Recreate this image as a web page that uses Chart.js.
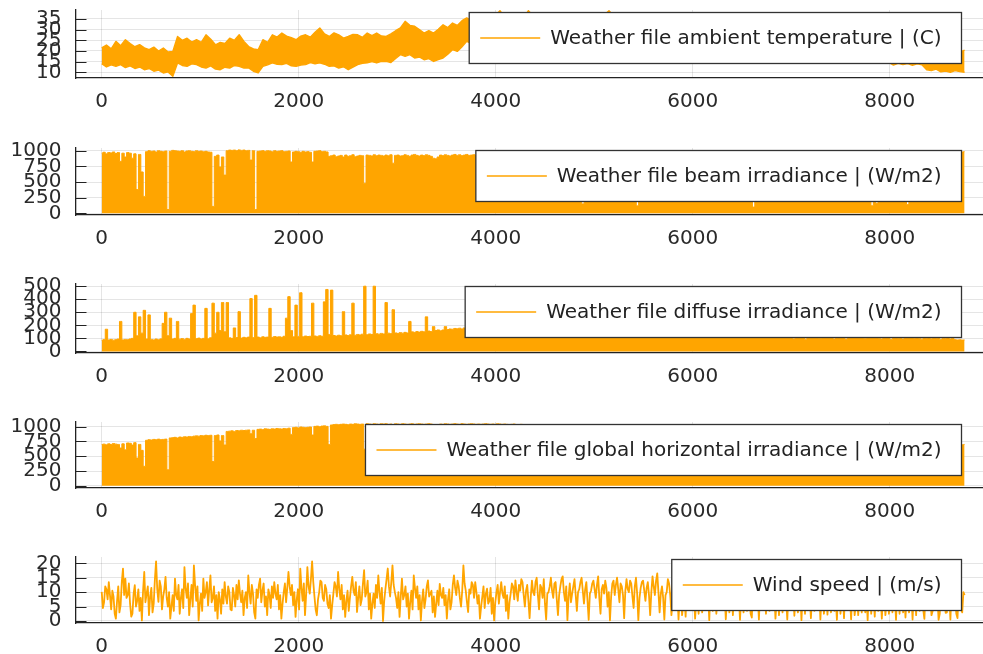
<!DOCTYPE html>
<html>
<head>
<meta charset="utf-8">
<script src="https://cdn.jsdelivr.net/npm/chart.js@4.4.1/dist/chart.umd.min.js"></script>
<style>
  html, body { margin: 0; padding: 0; background: #fff; overflow: hidden; }
  #wrap { position: relative; width: 983px; height: 654px; background: #fff; overflow: hidden; }
  #wrap canvas { position: absolute; left: 0; }
</style>
</head>
<body>
<div id="wrap"></div>
<script>
// ---- tick labels ----
const hourTicks = [0, 2000, 4000, 6000, 8000];
const tempTicks = [10, 15, 20, 25, 30, 35];
const beamTicks = [0, 250, 500, 750, 1000];
const diffuseTicks = [0, 100, 200, 300, 400, 500];
const ghiTicks = [0, 250, 500, 750, 1000];
const windTicks = [0, 5, 10, 15, 20];

// ---- series names ----
const tempName = 'Weather file ambient temperature | (C)';
const beamName = 'Weather file beam irradiance | (W/m2)';
const diffuseName = 'Weather file diffuse irradiance | (W/m2)';
const ghiName = 'Weather file global horizontal irradiance | (W/m2)';
const windName = 'Wind speed | (m/s)';

// ---- ambient temperature, daily lows / highs every two days (C) ----
const tempLow = [
  14.0, 12.5, 13.5, 12.8, 13.6, 12.2, 13.0, 11.8, 12.5, 11.2,
  11.8, 10.5, 11.0, 9.7, 10.2, 8.1, 14.4, 13.2, 12.8, 14.0,
  13.6, 12.5, 12.0, 13.0, 11.5, 11.2, 12.4, 12.0, 13.2, 12.8,
  12.0, 12.0, 10.5, 9.7, 12.8, 13.5, 14.4, 13.8, 13.6, 14.2,
  13.0, 12.8, 13.4, 13.6, 14.6, 14.0, 14.4, 13.8, 12.8, 13.0,
  12.0, 12.6, 11.2, 12.4, 13.6, 14.2, 14.4, 15.0, 14.4, 15.2,
  15.1, 14.6, 16.5, 18.3, 17.5, 18.3, 16.7, 17.2, 15.9, 16.4,
  15.1, 16.0, 16.7, 18.5, 20.6, 19.8, 22.0, 24.5, 23.5, 24.5,
  23.0, 25.0, 24.0, 25.5, 26.0, 25.0, 24.0, 25.5, 26.0, 25.0,
  26.5, 25.5, 24.5, 26.0, 25.0, 26.5, 25.5, 24.8, 26.2, 25.8,
  24.6, 26.0, 25.4, 26.4, 25.0, 24.5, 26.0, 27.0, 25.6, 24.8,
  25.6, 24.6, 25.2, 24.2, 25.0, 23.8, 24.6, 23.6, 24.2, 23.0,
  23.8, 22.6, 23.4, 22.2, 23.0, 21.8, 22.6, 21.4, 22.0, 20.8,
  21.6, 20.4, 21.0, 19.8, 20.6, 19.4, 20.0, 18.8, 19.6, 18.4,
  19.0, 18.0, 18.6, 17.6, 18.2, 17.2, 17.8, 16.8, 17.4, 16.4,
  17.0, 16.0, 16.6, 15.6, 16.2, 15.4, 15.8, 15.0, 15.6, 14.8,
  15.2, 14.6, 15.0, 14.4, 14.8, 14.2, 14.6, 13.4, 14.2, 13.6,
  14.1, 13.3, 14.0, 13.5, 11.2, 10.8, 11.5, 10.2, 10.6, 10.0,
  10.8, 10.3, 10.0
];
const tempHigh = [
  21.5, 22.8, 21.0, 24.5, 22.5, 25.3, 23.5, 22.0, 23.0, 21.5,
  20.6, 21.8, 20.0, 21.4, 19.5, 19.8, 26.8, 25.0, 26.0, 24.2,
  25.3, 24.0, 27.6, 25.5, 22.9, 24.0, 23.5, 26.0, 25.0, 27.6,
  24.5, 22.1, 21.0, 20.6, 25.3, 24.0, 27.6, 26.5, 28.4, 27.0,
  26.2, 25.3, 27.0, 27.6, 26.5, 28.8, 30.8, 28.0, 26.8, 28.5,
  27.6, 26.0, 26.8, 27.8, 27.6, 26.4, 28.4, 27.2, 28.4, 27.0,
  26.8, 28.0, 29.5, 30.8, 33.9, 32.0, 31.6, 30.0, 28.4, 29.5,
  28.4, 30.2, 32.3, 31.0, 33.1, 32.0, 34.2, 35.5, 34.0, 35.0,
  33.5, 36.0, 35.2, 36.5, 38.9, 36.0, 34.5, 36.8, 37.0, 35.5,
  38.9, 36.5, 35.0, 37.2, 36.0, 37.4, 36.2, 35.0, 37.0, 36.4,
  35.5, 37.2, 36.0, 37.3, 35.8, 34.8, 37.0, 38.9, 36.4, 35.2,
  36.6, 35.0, 36.2, 34.6, 35.8, 34.2, 35.4, 34.0, 35.0, 33.4,
  34.6, 33.0, 34.2, 32.6, 33.8, 32.2, 33.4, 31.8, 32.8, 31.2,
  32.2, 30.6, 31.8, 30.2, 31.2, 29.6, 30.8, 29.2, 30.2, 28.8,
  29.8, 28.2, 29.2, 27.8, 28.6, 27.4, 28.2, 27.0, 27.6, 26.6,
  27.2, 26.0, 26.8, 25.6, 26.2, 25.2, 25.8, 24.8, 25.4, 24.4,
  25.0, 24.0, 24.6, 23.6, 24.2, 23.2, 23.8, 22.8, 23.4, 22.6,
  23.0, 22.2, 22.8, 21.8, 21.0, 20.2, 21.4, 19.6, 20.4, 19.0,
  20.0, 19.4, 20.4
];

// ---- beam irradiance, daily peak (W/m2) ----
const beamPeak = [
  960, 975, 950, 970, 965, 980, 955, 970, 830, 960,
  900, 970, 960, 880, 950, 380, 940, 660, 270, 985,
  1000, 990, 995, 980, 1000, 990, 985, 995, 60, 990,
  1005, 1000, 995, 990, 1000, 980, 995, 1000, 990, 985,
  1000, 990, 995, 985, 990, 980, 975, 110, 910, 930,
  740, 900, 610, 1000, 1010, 1005, 1010, 1000, 1013, 1005,
  1010, 1000, 1005, 850, 1000, 60, 990, 995, 1000, 990,
  1000, 995, 985, 1000, 990, 995, 1000, 985, 990, 995,
  820, 980, 990, 985, 975, 990, 980, 985, 975, 820,
  990, 995, 1000, 985, 990, 980, 910, 920, 930, 905,
  915, 925, 900, 930, 910, 920, 935, 905, 915, 925,
  920, 480, 930, 925, 915, 935, 920, 930, 925, 915,
  930, 920, 935, 800, 925, 930, 915, 920, 935, 925,
  910, 930, 940, 925, 915, 930, 920, 935, 925, 910,
  880, 870, 900, 930, 920, 935, 925, 915, 930, 940,
  925, 935, 920, 930, 940, 925, 930, 935, 925, 940,
  930, 935, 940, 925, 930, 945, 935, 930, 940, 935,
  945, 930, 935, 940, 930, 925, 940, 935, 930, 945,
  935, 940, 930, 945, 935, 930, 940, 935, 945, 930,
  940, 935, 930, 945, 940, 935, 930, 940, 945, 935,
  930, 940, 935, 150, 940, 930, 945, 935, 940, 930,
  935, 945, 930, 940, 935, 930, 945, 940, 935, 930,
  940, 935, 945, 930, 940, 935, 120, 940, 930, 945,
  935, 940, 930, 945, 935, 940, 930, 935, 945, 940,
  180, 935, 940, 930, 945, 935, 940, 930, 935, 945,
  940, 935, 930, 945, 940, 935, 930, 940, 945, 935,
  930, 940, 935, 945, 930, 940, 935, 930, 945, 940,
  935, 930, 945, 940, 935, 100, 940, 930, 945, 935,
  940, 930, 935, 945, 940, 935, 930, 940, 945, 935,
  930, 940, 935, 945, 930, 940, 935, 930, 945, 940,
  935, 940, 930, 945, 935, 940, 930, 935, 945, 940,
  930, 935, 940, 945, 930, 940, 935, 930, 945, 940,
  935, 930, 945, 940, 935, 120, 945, 160, 935, 940,
  930, 945, 940, 935, 930, 940, 945, 935, 930, 940,
  140, 945, 935, 940, 930, 945, 940, 935, 930, 945,
  940, 935, 930, 945, 940, 935, 930, 940, 945, 935,
  950, 965, 975, 980, 985
];

// ---- diffuse irradiance, daily peak (W/m2) ----
const diffusePeak = [
  85, 90, 170, 88, 92, 86, 90, 95, 230, 88,
  92, 90, 95, 100, 300, 120, 265, 140, 315, 95,
  280, 92, 88, 95, 90, 96, 215, 300, 120, 255,
  95, 100, 230, 94, 98, 92, 100, 96, 290, 355,
  98, 102, 96, 100, 330, 97, 105, 370, 140, 300,
  160, 375, 150, 375, 104, 100, 180, 106, 305, 102,
  108, 104, 110, 405, 106, 430, 110, 105, 112, 108,
  110, 330, 108, 114, 110, 112, 108, 116, 255, 420,
  160, 112, 355, 115, 450, 112, 118, 114, 116, 370,
  118, 115, 120, 116, 380, 475, 130, 470, 122, 118,
  124, 120, 305, 126, 122, 128, 370, 124, 130, 126,
  132, 500, 128, 134, 130, 500, 136, 132, 138, 134,
  375, 140, 136, 320, 142, 138, 144, 140, 146, 142,
  230, 150, 146, 152, 148, 154, 150, 265, 156, 152,
  190, 160, 165, 158, 164, 190, 168, 172, 170, 176,
  174, 178, 172, 180, 176, 182, 178, 175, 180, 185,
  178, 182, 186, 180, 175, 184, 188, 182, 178, 185,
  180, 176, 182, 186, 178, 174, 180, 184, 178, 172,
  176, 170, 174, 168, 172, 166, 170, 164, 168, 162,
  166, 160, 164, 158, 162, 156, 160, 154, 158, 152,
  156, 150, 154, 300, 148, 152, 146, 150, 144, 148,
  142, 146, 140, 144, 138, 142, 136, 140, 134, 138,
  132, 136, 130, 134, 128, 132, 250, 130, 126, 130,
  124, 128, 122, 126, 120, 124, 118, 122, 120, 118,
  260, 120, 118, 122, 116, 120, 118, 115, 119, 117,
  115, 118, 116, 114, 117, 115, 113, 116, 114, 115,
  115, 113, 114, 114, 115, 113, 116, 114, 115, 113,
  114, 116, 113, 115, 114, 280, 115, 113, 116, 114,
  112, 115, 110, 114, 111, 113, 109, 112, 115, 110,
  108, 112, 96, 110, 113, 107, 111, 94, 109, 112,
  106, 110, 104, 98, 111, 107, 109, 103, 112, 95,
  108, 104, 110, 106, 93, 109, 105, 111, 102, 107,
  104, 109, 97, 106, 103, 240, 108, 200, 101, 96,
  107, 103, 109, 92, 105, 108, 100, 106, 95, 104,
  220, 102, 107, 98, 105, 101, 94, 104, 100, 106,
  97, 103, 99, 105, 92, 101, 98, 104, 96, 100,
  90, 88, 89, 87, 88
];

// ---- global horizontal irradiance, daily peak (W/m2) ----
const ghiPeak = [
  700, 705, 695, 710, 700, 715, 705, 700, 640, 710,
  610, 725, 720, 690, 730, 470, 700, 600, 330, 770,
  780, 775, 785, 780, 790, 780, 785, 790, 270, 810,
  815, 820, 810, 825, 820, 830, 825, 835, 830, 840,
  845, 840, 850, 845, 855, 850, 855, 410, 850, 860,
  760, 850, 690, 920, 925, 930, 920, 935, 930, 940,
  935, 940, 945, 880, 940, 800, 955, 960, 950, 965,
  960, 955, 965, 960, 970, 965, 960, 970, 965, 975,
  870, 985, 990, 980, 995, 990, 985, 990, 995, 860,
  1005, 1010, 1000, 1010, 1015, 1005, 700, 1030, 1035, 1040,
  1035, 1040, 1045, 1040, 1035, 1045, 1040, 1050, 1045, 1040,
  1045, 620, 1050, 1045, 1040, 1050, 1045, 1040, 1050, 1045,
  1050, 1040, 1045, 900, 1050, 1045, 1040, 1050, 1045, 1040,
  1045, 1050, 1040, 1045, 1050, 1045, 1040, 1045, 1050, 1045,
  1000, 990, 1030, 1045, 1040, 1050, 1045, 1040, 1045, 1050,
  1045, 1040, 1050, 1045, 1040, 1045, 1050, 1045, 1040, 1045,
  1040, 1045, 1050, 1045, 1040, 1045, 1040, 1050, 1045, 1040,
  1045, 1040, 1035, 1040, 1045, 1030, 1035, 1040, 1030, 1035,
  1030, 1025, 1030, 1020, 1025, 1015, 1020, 1010, 1015, 1005,
  1010, 1000, 1005, 995, 1000, 990, 985, 990, 980, 985,
  975, 970, 975, 420, 965, 960, 955, 960, 950, 945,
  950, 940, 935, 940, 930, 925, 930, 920, 915, 920,
  910, 905, 910, 900, 895, 900, 180, 890, 880, 885,
  875, 870, 875, 865, 860, 865, 855, 850, 855, 845,
  400, 840, 835, 830, 835, 825, 820, 825, 815, 810,
  815, 805, 800, 805, 795, 790, 795, 785, 780, 785,
  775, 770, 775, 765, 760, 765, 755, 750, 755, 745,
  740, 745, 735, 730, 735, 330, 725, 720, 725, 715,
  710, 715, 705, 700, 705, 695, 690, 695, 685, 680,
  685, 675, 670, 675, 665, 660, 665, 655, 650, 655,
  650, 645, 650, 640, 645, 640, 635, 640, 635, 630,
  635, 630, 625, 630, 625, 630, 620, 625, 630, 625,
  630, 625, 635, 630, 640, 180, 635, 360, 640, 645,
  640, 650, 645, 655, 650, 660, 655, 665, 660, 670,
  330, 670, 675, 680, 675, 685, 680, 690, 685, 690,
  695, 690, 700, 695, 700, 705, 700, 695, 705, 700,
  700, 705, 700, 695, 700
];

// ---- wind speed at midnight of each day (m/s) ----
const windMidnight = [
  10.1, 6.5, 11.0, 13.5, 4.0, 8.5, 0.8, 12.0, 5.5, 18.2,
  14.7, 9.0, 6.0, 2.5, 12.4, 7.0, 3.5, 0.2, 17.0, 9.5,
  2.0, 11.5, 6.0, 20.7, 6.6, 12.0, 8.5, 15.3, 5.0, 0.8,
  9.0, 14.7, 7.5, 2.5, 11.0, 18.7, 8.0, 2.0, 12.5, 19.3,
  7.0, 0.2, 9.5, 14.7, 10.0, 5.4, 15.8, 8.0, 3.5, 0.8,
  7.5, 11.0, 13.5, 6.0, 10.0, 3.7, 9.0, 12.5, 14.1, 6.5,
  2.0, 10.0, 15.8, 6.0, 9.5, 0.8, 8.0, 14.7, 10.5, 5.0,
  2.0, 9.0, 12.0, 13.5, 7.5, 4.0, 0.8, 10.0, 6.5, 17.0,
  9.0, 5.5, 1.4, 11.0, 18.2, 7.0, 2.0, 18.7, 9.5, 20.7,
  8.5, 2.0, 10.0, 13.5, 7.0, 11.0, 4.5, 0.8, 9.5, 12.0,
  17.0, 7.5, 4.0, 1.4, 10.5, 8.0, 15.3, 9.0, 3.1, 12.0,
  7.5, 17.6, 10.0, 4.0, 0.8, 9.5, 12.5, 15.8, 6.0, 0.0,
  11.0, 18.2, 8.5, 19.3, 10.0, 4.5, 1.4, 14.7, 9.0, 5.0,
  0.8, 10.5, 15.8, 8.0, 4.0, 0.2, 11.0, 7.5, 14.1, 9.5,
  3.0, 1.4, 10.5, 12.9, 8.0, 5.5, 0.8, 11.0, 6.5, 15.8,
  9.0, 12.0, 5.0, 19.3, 10.5, 3.1, 9.5, 12.5, 13.5, 6.0,
  0.8, 8.5, 4.5, 11.2, 7.0, 2.5, 0.2, 10.0, 6.0, 13.5,
  8.0, 3.5, 0.8, 9.5, 12.0, 14.1, 7.0, 10.5, 13.5, 5.0,
  12.5, 1.0, 14.0, 9.0, 15.0, 4.0, 11.5, 14.5, 0.5, 10.0,
  15.0, 8.0, 13.5, 2.0, 12.0, 15.5, 7.0, 0.3, 13.0, 9.5,
  14.5, 3.5, 11.0, 15.0, 6.0, 13.5, 0.4, 10.5, 14.0, 8.0,
  15.5, 2.5, 12.5, 14.0, 5.0, 0.2, 13.0, 9.0, 15.0, 6.5,
  12.0, 1.0, 14.5, 10.0, 13.0, 4.5, 15.0, 0.3, 11.5, 14.0,
  7.0, 13.5, 2.0, 15.5, 9.0, 16.5, 3.0, 12.0, 0.5, 10.0,
  13.0, 2.0, 11.0, 8.0, 0.5, 12.5, 6.0, 1.5, 10.0, 13.5,
  4.0, 0.8, 9.5, 12.0, 3.0, 11.0, 7.5, 0.3, 12.5, 9.0,
  2.5, 10.5, 13.0, 5.0, 0.6, 11.0, 8.0, 2.0, 12.0, 6.5,
  0.4, 10.0, 12.5, 3.5, 9.0, 1.2, 11.5, 7.0, 0.5, 12.0,
  8.5, 2.5, 10.5, 13.0, 4.0, 0.8, 9.0, 11.5, 3.0, 10.0,
  0.5, 12.0, 7.0, 1.8, 11.0, 9.5, 0.3, 10.5, 12.5, 4.5,
  1.0, 9.5, 11.5, 6.0, 0.5, 12.0, 8.0, 2.2, 10.0, 13.0,
  3.5, 0.4, 11.0, 7.5, 1.0, 12.5, 9.0, 0.6, 10.5, 6.0,
  2.0, 11.5, 12.5, 3.0, 0.3, 10.0, 8.5, 1.5, 12.0, 9.5,
  0.8, 11.0, 6.5, 2.5, 10.5, 13.0, 0.4, 9.0, 11.5, 3.0,
  1.2, 12.0, 8.0, 0.5, 10.5, 12.5, 3.5, 9.5, 0.7, 11.0,
  7.0, 2.0, 12.0, 10.0, 0.4, 9.5, 11.5, 2.8, 10.0, 0.5,
  12.0, 8.5, 1.0, 10.5, 3.0, 9.0
];

// ---- wind speed at noon of each day (m/s) ----
const windNoon = [
  4.5, 12.0, 7.5, 9.0, 10.5, 2.5, 7.0, 3.0, 13.5, 9.0,
  8.0, 13.0, 1.5, 9.5, 5.0, 11.0, 8.0, 10.5, 6.5, 12.0,
  8.5, 3.0, 14.5, 11.0, 14.0, 4.0, 11.0, 8.0, 10.0, 5.0,
  3.5, 9.0, 12.5, 8.0, 4.5, 11.5, 13.0, 7.5, 5.0, 12.5,
  12.0, 6.0, 3.5, 8.0, 13.5, 11.0, 6.5, 12.0, 9.0, 10.0,
  2.5, 6.0, 8.5, 12.0, 4.0, 11.5, 5.0, 7.5, 9.5, 10.5,
  8.0, 4.5, 10.0, 12.5, 3.0, 11.0, 12.5, 6.5, 13.0, 8.5,
  11.0, 4.5, 8.0, 9.5, 12.5, 9.0, 6.0, 13.0, 11.5, 12.0,
  12.5, 10.0, 7.5, 4.0, 11.5, 13.0, 9.5, 12.0, 14.5, 13.5,
  4.0, 7.5, 14.0, 8.0, 12.5, 6.0, 9.0, 5.5, 13.5, 8.5,
  11.0, 12.5, 9.0, 7.0, 3.5, 12.0, 10.5, 13.5, 8.0, 5.5,
  13.0, 8.5, 14.0, 9.5, 6.0, 4.5, 8.0, 10.0, 11.5, 7.0,
  14.5, 12.0, 13.5, 12.5, 8.0, 10.0, 8.5, 7.5, 12.0, 9.5,
  6.5, 4.0, 11.5, 12.0, 9.0, 7.0, 4.5, 12.0, 8.5, 10.5,
  8.5, 6.0, 5.5, 9.0, 11.5, 9.0, 7.5, 4.0, 12.5, 11.5,
  14.0, 8.0, 10.5, 13.0, 6.5, 11.0, 13.5, 8.0, 10.0, 9.0,
  5.0, 12.0, 9.5, 6.0, 11.5, 8.0, 6.5, 12.5, 10.0, 9.5,
  12.0, 9.0, 6.5, 13.0, 7.5, 10.0, 12.5, 14.5, 9.0, 10.5,
  7.0, 8.5, 10.0, 13.5, 9.0, 12.5, 8.0, 6.0, 9.5, 12.0,
  10.5, 13.0, 7.5, 9.0, 14.5, 10.0, 12.0, 8.5, 6.5, 12.0,
  9.0, 10.0, 13.5, 10.5, 11.0, 7.0, 9.5, 13.0, 11.0, 12.5,
  8.0, 11.0, 9.5, 11.5, 10.0, 8.5, 14.0, 12.5, 11.0, 13.0,
  9.0, 10.5, 11.0, 14.0, 8.5, 12.0, 9.5, 8.0, 13.5, 10.5,
  11.5, 9.0, 10.0, 12.0, 14.0, 10.0, 9.5, 8.0, 9.0, 14.5,
  9.0, 7.5, 4.0, 10.5, 8.0, 2.0, 9.5, 11.0, 6.0, 8.0,
  10.5, 7.0, 2.5, 9.0, 10.0, 5.0, 9.5, 11.0, 3.5, 10.5,
  8.0, 4.0, 10.0, 9.5, 8.0, 3.0, 10.5, 11.0, 7.5, 9.0,
  8.5, 3.0, 10.0, 9.0, 2.5, 11.0, 6.5, 9.5, 10.0, 4.5,
  9.5, 11.0, 3.5, 8.0, 10.5, 7.0, 2.0, 9.5, 11.0, 8.0,
  9.0, 4.0, 10.5, 8.5, 3.0, 10.0, 9.5, 2.5, 11.0, 8.0,
  9.0, 3.5, 10.0, 11.0, 8.5, 2.5, 9.5, 10.5, 3.0, 9.0,
  8.0, 10.0, 2.5, 9.5, 11.0, 4.0, 8.5, 10.0, 2.0, 9.5,
  10.0, 3.0, 8.0, 9.5, 10.5, 2.5, 9.0, 11.0, 3.5, 8.5,
  9.5, 2.0, 10.5, 8.0, 3.0, 9.0, 10.0, 2.5, 11.0, 9.5,
  8.5, 3.0, 9.5, 10.0, 2.0, 9.0, 11.0, 4.0, 10.5, 8.0,
  9.0, 3.5, 10.5, 9.0, 2.5, 11.0, 8.0, 3.0, 9.5, 10.5,
  8.0, 2.5, 9.5, 4.0, 10.0
];

// ---- helpers ----
const HOURS = 8760;
const ORANGE = '#FFA500';
const FONT = 'DejaVu Sans';

// place readings evenly over the hours of the year
function spread(values) {
  const step = HOURS / (values.length - 1);
  return values.map((v, i) => ({ x: i * step, y: v }));
}

// midnight and noon readings in time order
function windSeries() {
  const pts = [];
  windMidnight.forEach((v, d) => {
    pts.push({ x: d * 24, y: v });
    if (d < windNoon.length) pts.push({ x: d * 24 + 12, y: windNoon[d] });
  });
  return pts;
}

// framed legend in the upper right corner of the plot area
const legendBox = {
  id: 'legendBox',
  afterDraw(chart) {
    const { ctx, chartArea } = chart;
    const label = chart.data.datasets[0].label;
    ctx.save();
    ctx.font = '20px "' + FONT + '"';
    const tw = ctx.measureText(label).width;
    const h = 51;
    const w = 11 + 60 + 10 + tw + 20;
    const right = chartArea.right - 21.5;
    const left = right - w;
    const top = chartArea.top + 2.5;
    ctx.fillStyle = '#ffffff';
    ctx.fillRect(left, top, w, h);
    ctx.strokeStyle = '#333333';
    ctx.lineWidth = 1.3;
    ctx.strokeRect(left, top, w, h);
    ctx.strokeStyle = ORANGE;
    ctx.lineWidth = 1.3;
    ctx.beginPath();
    ctx.moveTo(left + 11, top + h / 2);
    ctx.lineTo(left + 71, top + h / 2);
    ctx.stroke();
    ctx.fillStyle = '#222222';
    ctx.textBaseline = 'middle';
    ctx.textAlign = 'left';
    ctx.fillText(label, left + 81, top + h / 2 + 1);
    ctx.restore();
  }
};

// short inward tick marks on the y axis
const innerTicks = {
  id: 'innerTicks',
  afterDraw(chart) {
    const { ctx, chartArea } = chart;
    const y = chart.scales.y;
    ctx.save();
    ctx.strokeStyle = '#222222';
    ctx.lineWidth = 1.2;
    ctx.beginPath();
    y.ticks.forEach(t => {
      const py = Math.round(y.getPixelForValue(t.value)) + 0.5;
      ctx.moveTo(chartArea.left, py);
      ctx.lineTo(chartArea.left + 11, py);
    });
    ctx.stroke();
    ctx.restore();
  }
};

function makePanel(p) {
  const padTop = 30;
  const canvas = document.createElement('canvas');
  const canvasTop = p.top - padTop;
  const height = (p.bottom - p.top) + padTop + 40;
  canvas.width = 983;
  canvas.height = height;
  canvas.style.top = canvasTop + 'px';
  canvas.style.width = '983px';
  canvas.style.height = height + 'px';
  document.getElementById('wrap').appendChild(canvas);

  const tickFont = { family: FONT, size: 20 };
  new Chart(canvas.getContext('2d'), {
    type: 'line',
    data: { datasets: p.datasets },
    options: {
      responsive: false,
      animation: false,
      events: [],
      layout: { padding: { top: padTop, right: 0, bottom: 0, left: 0 } },
      elements: { point: { radius: 0 }, line: { tension: 0, borderJoinStyle: 'round' } },
      plugins: { legend: { display: false }, tooltip: { enabled: false } },
      scales: {
        x: {
          type: 'linear',
          min: -266,
          max: 8947,
          afterBuildTicks: s => { s.ticks = hourTicks.map(v => ({ value: v })); },
          afterFit: s => { s.height = 40; },
          grid: { color: 'rgba(0,0,0,0.1)', lineWidth: 1, drawTicks: false },
          border: { display: true, color: '#222222', width: 1.3 },
          ticks: {
            font: tickFont, color: '#2a2a2a', padding: 12,
            maxRotation: 0, autoSkip: false, callback: v => String(v)
          }
        },
        y: {
          type: 'linear',
          min: p.min,
          max: p.max,
          afterBuildTicks: s => { s.ticks = p.ticks.map(v => ({ value: v })); },
          afterFit: s => { s.width = 75.5; },
          grid: { color: 'rgba(0,0,0,0.1)', lineWidth: 1, drawTicks: false },
          border: { display: true, color: '#222222', width: 1.3 },
          ticks: {
            font: tickFont, color: '#2a2a2a', padding: 14,
            autoSkip: false, callback: v => String(v)
          }
        }
      }
    },
    plugins: [innerTicks, legendBox]
  });
}

const lineStyle = { borderColor: ORANGE, backgroundColor: ORANGE, borderWidth: 1, pointRadius: 0 };

// ambient temperature: band between daily lows and highs
makePanel({
  top: 10, bottom: 78, min: 7.33, max: 39.22, ticks: tempTicks,
  datasets: [
    Object.assign({ label: tempName, data: spread(tempHigh), fill: '+1' }, lineStyle, { borderWidth: 1.4 }),
    Object.assign({ label: tempName, data: spread(tempLow), fill: false }, lineStyle, { borderWidth: 1.4 })
  ]
});

makePanel({
  top: 148, bottom: 215, min: -27, max: 1043, ticks: beamTicks,
  datasets: [Object.assign({ label: beamName, data: spread(beamPeak), fill: 'origin', stepped: 'middle' }, lineStyle)]
});

makePanel({
  top: 284, bottom: 353, min: -12.3, max: 516.9, ticks: diffuseTicks,
  datasets: [Object.assign({ label: diffuseName, data: spread(diffusePeak), fill: 'origin', stepped: 'middle' }, lineStyle)]
});

makePanel({
  top: 422, bottom: 488, min: -37, max: 1079.5, ticks: ghiTicks,
  datasets: [Object.assign({ label: ghiName, data: spread(ghiPeak), fill: 'origin', stepped: 'middle' }, lineStyle)]
});

makePanel({
  top: 557, bottom: 623, min: -0.7, max: 22.2, ticks: windTicks,
  datasets: [Object.assign({ label: windName, data: windSeries(), fill: false },
    lineStyle, { borderWidth: 1.8 })]
});
</script>
</body>
</html>
